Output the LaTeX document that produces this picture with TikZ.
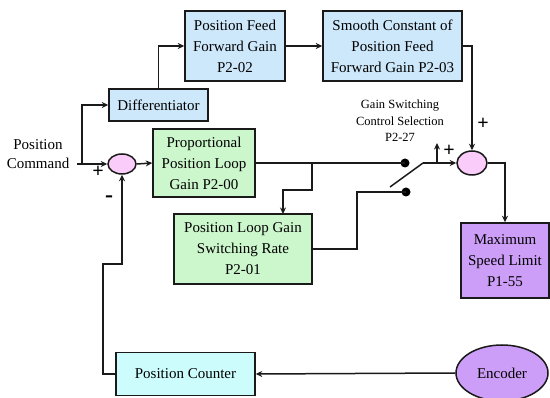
\documentclass[tikz,border=0pt]{standalone}
\usepackage{fontspec}
\setmainfont{Liberation Serif}
\usetikzlibrary{arrows.meta,calc,shapes.geometric}
\definecolor{bluebox}{HTML}{CDE8FA}
\definecolor{greenbox}{HTML}{CCF7CC}
\definecolor{purplebox}{HTML}{CC9EF7}
\definecolor{cyanbox}{HTML}{CCFCFC}
\definecolor{pinksum}{HTML}{FACCFA}
\definecolor{edge}{HTML}{1A1A1A}
\tikzset{
  blk/.style={draw=edge,line width=1.5pt,align=center,inner sep=1pt,
    font=\fontsize{15}{21}\selectfont},
  sumc/.style={draw=edge,line width=1.5pt,ellipse,fill=pinksum,inner sep=0pt},
  conn/.style={draw=edge,line width=1.5pt},
  arr/.style={conn,-{Stealth[length=6.5pt,width=6pt]}},
  sgn/.style={font=\fontsize{20}{20}\selectfont\bfseries,inner sep=0pt},
  dotc/.style={circle,fill=black,minimum size=9pt,inner sep=0pt},
}
\begin{document}
\begin{tikzpicture}[x=1pt,y=-1pt]
\useasboundingbox[fill=white] (0,0) rectangle (550,398);
% blocks
\node[blk,fill=bluebox,minimum width=100pt,minimum height=70pt] (ff) at (235,46) {Position Feed\\Forward Gain\\P2-02};
\node[blk,fill=bluebox,minimum width=139pt,minimum height=70pt] (smooth) at (392.5,46) {Smooth Constant of\\Position Feed\\Forward Gain P2-03};
\node[blk,fill=bluebox,minimum width=99pt,minimum height=32pt] (diff) at (158.5,105) {Differentiator};
\node[blk,fill=greenbox,minimum width=102pt,minimum height=68pt] (prop) at (204,163) {Proportional\\Position Loop\\Gain P2-00};
\node[blk,fill=greenbox,minimum width=138pt,minimum height=70pt] (plg) at (243,249) {Position Loop Gain\\Switching Rate\\P2-01};
\node[blk,fill=purplebox,minimum width=88pt,minimum height=75pt] (maxs) at (505,260.5) {Maximum\\Speed Limit\\P1-55};
\node[blk,fill=cyanbox,minimum width=139pt,minimum height=43pt] (pc) at (185.5,374) {Position Counter};
\node[blk,ellipse,fill=purplebox,minimum width=92pt,minimum height=56pt] (enc) at (502,373) {Encoder};
\node[sumc,minimum width=28pt,minimum height=20pt] (sum1) at (122,164) {};
\node[sumc,minimum width=30pt,minimum height=24pt] (sum2) at (472,163) {};
\node[dotc] (dot1) at (405,163) {};
\node[dotc] (dot2) at (406,192) {};
% texts
\node[align=center,font=\fontsize{15}{19}\selectfont,inner sep=0pt] (cmd) at (38,154) {Position\\Command};
\node[align=center,font=\fontsize{12.5}{16.5}\selectfont,inner sep=0pt] (gsc) at (400,121) {Gain Switching\\Control Selection\\P2-27};
\node[sgn] (p1) at (98,172) {+};
\node[sgn,font=\fontsize{24}{24}\selectfont\bfseries] (m1) at (109,199) {-};
\node[sgn] (p2) at (483,124) {+};
\node[sgn] (p3) at (449,151) {+};
% coordinates
\coordinate (cin) at (77,164);
\coordinate (br1) at (82,164);
\coordinate (br2) at (312,163);
\coordinate (plgin) at (283,214);
\coordinate (swa) at (390,187);
\coordinate (swb) at (423,163);
\coordinate (upa) at (437,163);
\coordinate (upb) at (437,143);
\coordinate (fb1) at (103,374);
\coordinate (fb2) at (103,264);
\coordinate (fb3) at (122,264);
\coordinate (pl1) at (357,249);
% connectors
\draw[arr] (cin) -- (sum1.west);
\draw[arr] (br1) |- (diff.west);
\draw[arr] (diff.north) |- (ff.west);
\draw[arr] (ff.east) -- (smooth.west);
\draw[arr] (smooth.east) -| (sum2.north);
\draw[arr] (sum1.east) -- (prop.west);
\draw[conn] (prop.east) -- (dot1.center);
\draw[arr] (br2) |- (plgin |- 0,190) -- (plgin);
\draw[conn] (plg.east |- pl1) -- (pl1) |- (dot2.center);
\draw[conn] (swa) -- (swb);
\draw[arr] (swb) -- (sum2.west);
\draw[arr] (upa) -- (upb);
\draw[arr] (sum2.east) -| (maxs.north);
\draw[arr] (pc.west) -- (fb1) -- (fb2) -- (fb3) -- (sum1.south);
\draw[arr] (enc.west) -- (pc.east);
\end{tikzpicture}
\end{document}
